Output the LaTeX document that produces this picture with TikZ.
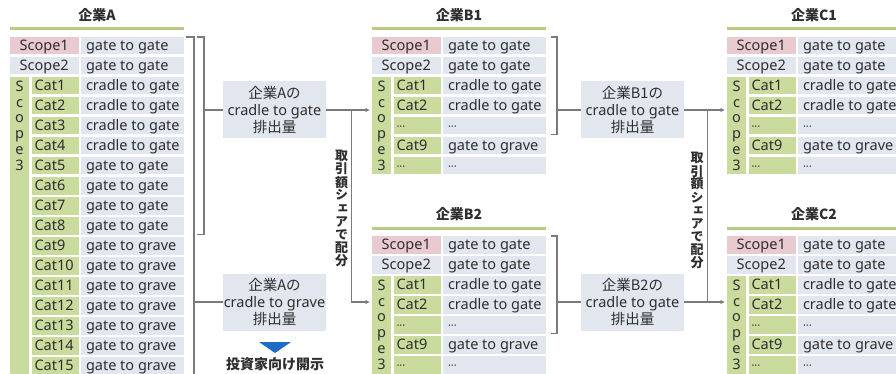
\documentclass[tikz,border=0pt]{standalone}
\usepackage{fontspec}
\setmainfont{Noto Sans}
\newfontfamily\jp{Noto Sans CJK JP}
\newfontfamily\jpv[RawFeature=+vert]{Noto Sans CJK JP}
\usetikzlibrary{arrows.meta,calc}
\definecolor{pinkc}{HTML}{E9CAD0}
\definecolor{grayc}{HTML}{E2E6EF}
\definecolor{greenc}{HTML}{C9DC9D}
\definecolor{lineg}{HTML}{B8CB82}
\definecolor{txt}{HTML}{2E2E2E}
\definecolor{connc}{HTML}{7A7A7A}
\definecolor{blu}{HTML}{1F6CC4}
\newcommand\dotsj{{\fontsize{11}{11}\selectfont ···}}
\newcommand\lbox[2]{\makebox[#1][l]{#2}}
\tikzset{
  cellbase/.style={inner ysep=0pt, outer sep=0pt, minimum height=17.5pt, text height=12.3pt, text depth=3.2pt, anchor=north west, font=\fontsize{14.5}{16}\selectfont, text=txt},
  scopecell/.style={cellbase, inner xsep=0pt, minimum width=68.5pt},
  catcell/.style={cellbase, fill=greenc, inner xsep=3pt, minimum width=47pt},
  valcell/.style={cellbase, fill=grayc, inner xsep=5pt, minimum width=103pt},
  scol/.style={fill=greenc, minimum width=19pt, anchor=north west, inner sep=0pt, outer sep=0pt},
  sletter/.style={anchor=base, inner sep=0pt, font=\fontsize{14.5}{16}\selectfont, text=txt},
  ttl/.style={inner sep=0pt, font=\jp\bfseries\fontsize{14}{16}\selectfont, text=txt},
  tline/.style={draw=lineg, line width=3pt},
  conn/.style={draw=connc, line width=1.1pt},
  arr/.style={conn, -{Latex[length=4.5pt,width=4.5pt]}, shorten >=2pt},
  emis/.style={fill=grayc, minimum width=103pt, minimum height=57pt, inner sep=0pt, align=center, text=txt, font=\fontsize{14.5}{16.7}\selectfont},
  vchar/.style={inner sep=0pt, text height=11pt, text depth=2pt, font=\jpv\bfseries\fontsize{13}{13}\selectfont, text=txt},
}
% small company table: prefix, x0, y0, title
\newcommand\smalltable[4]{%
  \node[ttl] (#1-t) at (#2+87,#3-21.5) {#4};
  \draw[tline] (#2,#3-8) -- (#2+174,#3-8);
  \node[scopecell,fill=pinkc] (#1-l0) at (#2,#3) {Scope1};
  \node[valcell] (#1-v0) at (#2+71,#3) {\lbox{93pt}{gate to gate}};
  \node[scopecell,fill=grayc] (#1-l1) at (#2,#3+20) {Scope2};
  \node[valcell] (#1-v1) at (#2+71,#3+20) {\lbox{93pt}{gate to gate}};
  \node[scol, minimum height=97.5pt] (#1-S) at (#2,#3+40) {};
  \foreach \n/\c/\v in {2/Cat1/cradle to gate,3/Cat2/cradle to gate,4/\dotsj/\dotsj,5/Cat9/gate to grave,6/\dotsj/\dotsj}{
    \node[catcell] (#1-c\n) at (#2+21.5,#3+\n*20) {\lbox{41pt}{\c}};
    \node[valcell] (#1-v\n) at (#2+71,#3+\n*20) {\lbox{93pt}{\v}};
  }
  \foreach \ch [count=\k] in {S,c,o,p,e,3}
    \node[sletter] (#1-s\k) at (#2+9.5,#3+40+14.3+\k*15.8-15.8) {\ch};
}
\begin{document}
\begin{tikzpicture}[x=1pt,y=-1pt]
\useasboundingbox (0,0) rectangle (896,374);
\clip (0,0) rectangle (896,374);

% ---------- Company A ----------
\node[ttl] (A-t) at (97,15) {企業A};
\draw[tline] (10,29) -- (184,29);
\node[scopecell,fill=pinkc] (A-l0) at (10,37) {Scope1};
\node[valcell] (A-v0) at (81,37) {\lbox{93pt}{gate to gate}};
\node[scopecell,fill=grayc] (A-l1) at (10,57) {Scope2};
\node[valcell] (A-v1) at (81,57) {\lbox{93pt}{gate to gate}};
\node[scol, minimum height=297.5pt] (A-S) at (10,77) {};
\foreach \n/\c/\v in {2/Cat1/cradle to gate,3/Cat2/cradle to gate,4/Cat3/cradle to gate,5/Cat4/cradle to gate,
  6/Cat5/gate to gate,7/Cat6/gate to gate,8/Cat7/gate to gate,9/Cat8/gate to gate,
  10/Cat9/gate to grave,11/Cat10/gate to grave,12/Cat11/gate to grave,13/Cat12/gate to grave,
  14/Cat13/gate to grave,15/Cat14/gate to grave,16/Cat15/gate to grave}{
  \node[catcell] (A-c\n) at (31.5,37+\n*20) {\lbox{41pt}{\c}};
  \node[valcell] (A-v\n) at (81,37+\n*20) {\lbox{93pt}{\v}};
}
\foreach \ch [count=\k] in {S,c,o,p,e,3}
  \node[sletter] (A-s\k) at (19.5,91.3+\k*15.8-15.8) {\ch};

% brackets of A
\coordinate (Aob) at ([xshift=10pt]A-v0.north east);
\draw[conn] ([xshift=2pt]A-v0.north east) -- (Aob) |- ([xshift=2pt]A-v16.south east);
\coordinate (Aib) at ([xshift=20pt]A-v0.north east);
\draw[conn] ([xshift=13pt]A-v0.north east) -- (Aib) |- ([xshift=13pt]A-v9.south east);

% emission boxes of A
\node[emis] (AC) at (274.5,110) {{\jp 企業Aの}\\cradle to gate\\{\jp 排出量}};
\node[emis] (AG) at (274.5,302) {{\jp 企業Aの}\\cradle to grave\\{\jp 排出量}};
\draw[conn] (Aib |- AC.west) -- (AC.west);
\draw[conn] (Aob |- AG.west) -- (AG.west);
\fill[blu] (259,342) -- (291,342) -- (275,353) -- cycle;
\node[ttl] (disc) at (275,364) {投資家向け開示};

% ---------- Companies B ----------
\smalltable{B1}{372}{37}{企業B1}
\smalltable{B2}{372}{236}{企業B2}

% allocation A -> B
\coordinate (As) at ($(AC.east)+(25,0)$);
\draw[arr] (AC.east) -- (AC.east -| B1-S.west);
\draw[arr] (As) |- (B2-S.west |- AG.east);
\foreach \ch [count=\k] in {取,引,額,シ,ェ,ア,で,配,分}
  \node[vchar] (Av\k) at (341.5,150+\k*13-6.5) {\ch};

% brackets of B
\coordinate (B1br) at ([xshift=11pt]B1-v0.north east);
\draw[conn] ([xshift=5pt]B1-v0.north east) -- (B1br) |- ([xshift=5pt]B1-v4.south east);
\coordinate (B2br) at ([xshift=11pt]B2-v0.north east);
\draw[conn] ([xshift=5pt]B2-v0.north east) -- (B2br) |- ([xshift=5pt]B2-v4.south east);

\node[emis] (B1C) at (632.5,110) {{\jp 企業B1の}\\cradle to gate\\{\jp 排出量}};
\node[emis] (B2C) at (632.5,302) {{\jp 企業B2の}\\cradle to gate\\{\jp 排出量}};
\draw[conn] (B1br |- B1C.west) -- (B1C.west);
\draw[conn] (B2br |- B2C.west) -- (B2C.west);

% ---------- Companies C ----------
\smalltable{C1}{727}{37}{企業C1}
\smalltable{C2}{727}{236}{企業C2}

% allocation B -> C
\coordinate (Bs) at ($(B1C.east)+(23,0)$);
\draw[arr] (B1C.east) -- (B1C.east -| C1-S.west);
\draw[conn] (Bs) -- (Bs |- B2C.east);
\draw[arr] (B2C.east) -- (B2C.east -| C2-S.west);
\foreach \ch [count=\k] in {取,引,額,シ,ェ,ア,で,配,分}
  \node[vchar] (Bv\k) at (697,152+\k*13-6.5) {\ch};
\end{tikzpicture}
\end{document}
